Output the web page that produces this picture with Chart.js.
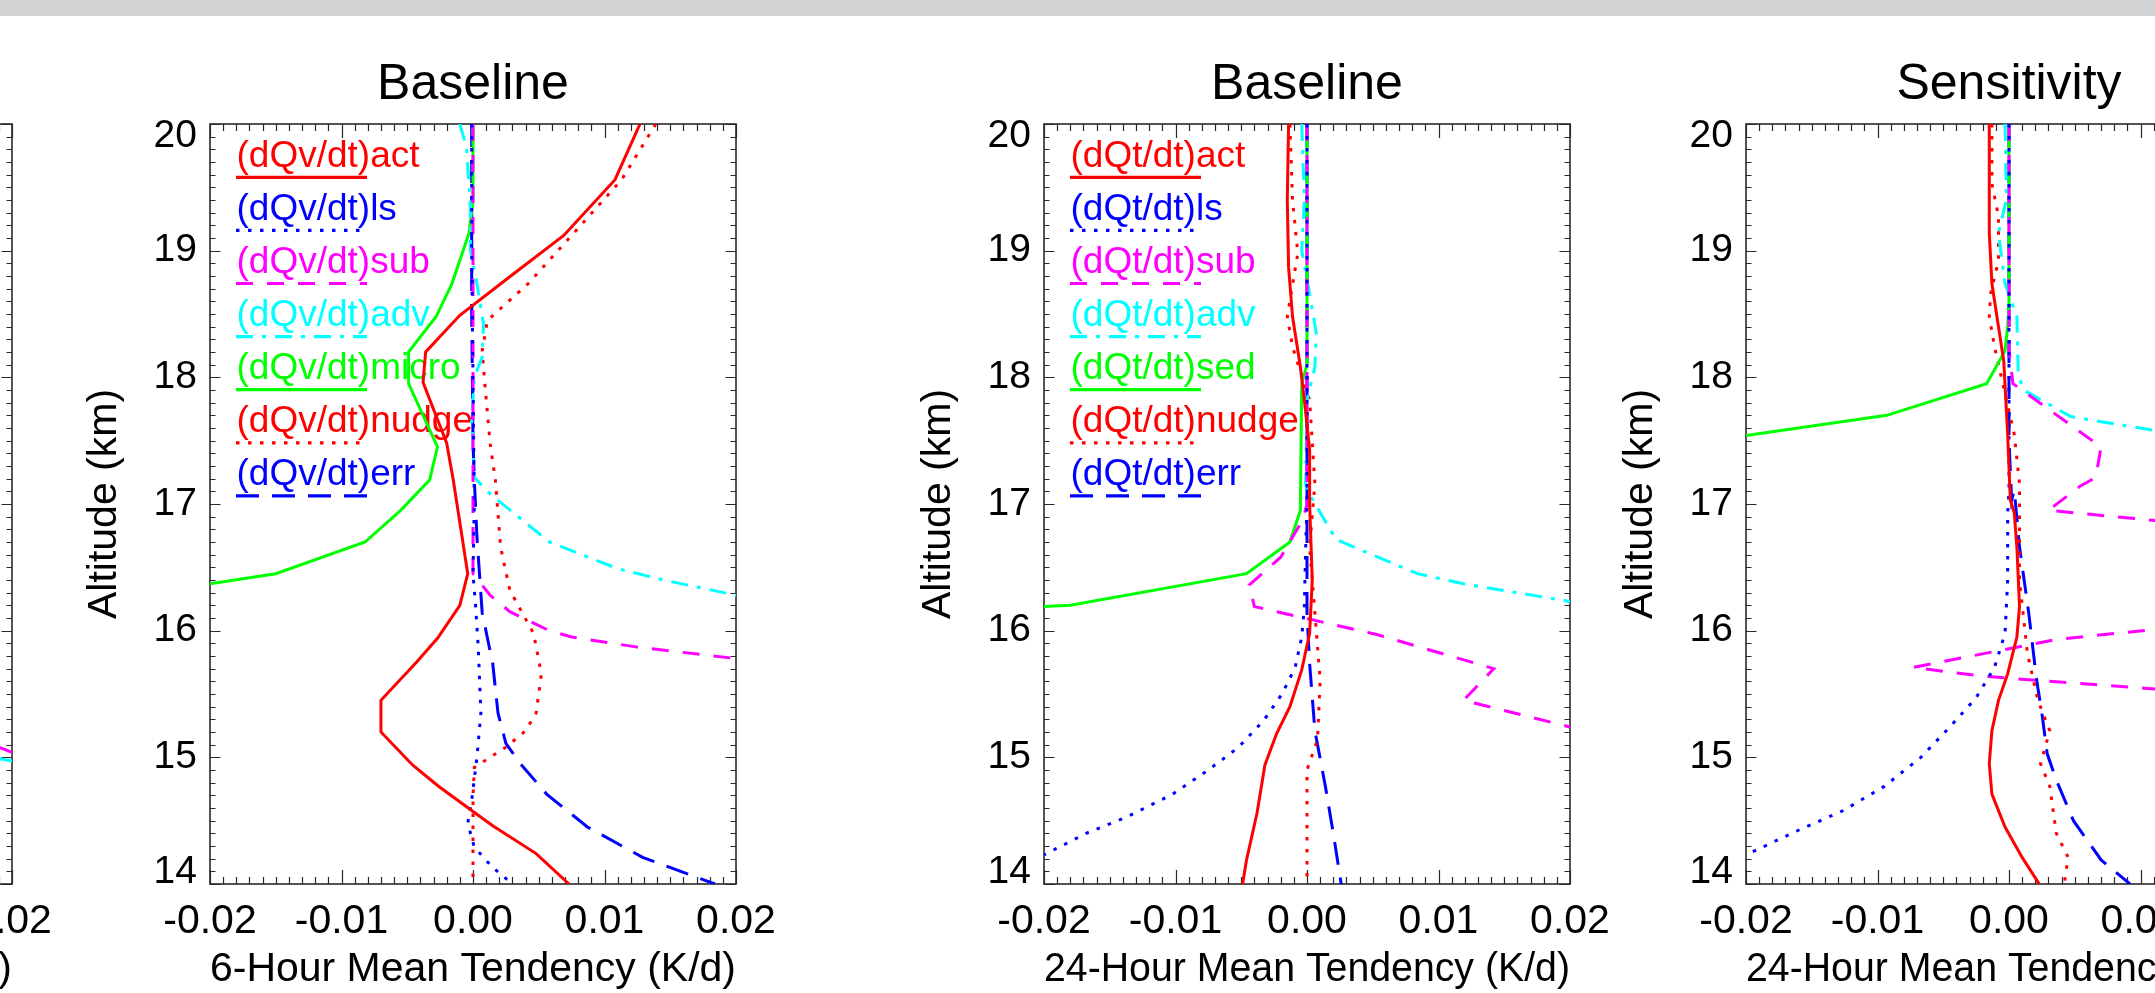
<!DOCTYPE html>
<html>
<head>
<meta charset="utf-8">
<script src="https://cdn.jsdelivr.net/npm/chart.js@4.4.1/dist/chart.umd.min.js"></script>
<style>
html, body { margin:0; padding:0; background:#ffffff; width:2155px; height:993px; overflow:hidden; position:relative; }
#bar { position:absolute; left:0; top:0; width:2155px; height:16px; background:#d3d4d6; }
canvas { position:absolute; top:0; }
</style>
</head>
<body>
<div id="bar"></div>
<canvas id="c0" width="834" height="993" style="left:-724px"></canvas>
<canvas id="c1" width="834" height="993" style="left:0px"></canvas>
<canvas id="c2" width="834" height="993" style="left:834px"></canvas>
<canvas id="c3" width="834" height="993" style="left:1536px"></canvas>
<script>
// ---------------- axes / tick labels ----------------
const X_MIN = -0.02, X_MAX = 0.02, Y_MIN = 14, Y_MAX = 20;
const xTickValues = [-0.02, -0.01, 0, 0.01, 0.02];
const xTickLabels = ['-0.02', '-0.01', '0.00', '0.01', '0.02'];
const yTickValues = [14, 15, 16, 17, 18, 19, 20];
const yTickLabels = ['14', '15', '16', '17', '18', '19', '20'];
const panelTitles = ['', 'Baseline', 'Baseline', 'Sensitivity'];
const xTitles = ['6-Hour Mean Tendency (K/d)', '6-Hour Mean Tendency (K/d)', '24-Hour Mean Tendency (K/d)', '24-Hour Mean Tendency (K/d)'];
const yTitle = 'Altitude (km)';
const qvLabels = ['(dQv/dt)act', '(dQv/dt)ls', '(dQv/dt)sub', '(dQv/dt)adv', '(dQv/dt)micro', '(dQv/dt)nudge', '(dQv/dt)err'];
const qtLabels = ['(dQt/dt)act', '(dQt/dt)ls', '(dQt/dt)sub', '(dQt/dt)adv', '(dQt/dt)sed', '(dQt/dt)nudge', '(dQt/dt)err'];

// ---------------- data: [tendency, altitude km] ----------------
// partial panel at the far left (only its right edge is visible)
const p0Sub = [[0.0185, 15.10], [0.0200, 15.04]];
const p0Adv = [[0.0185, 15.00], [0.0200, 14.97]];

// 6-hour baseline (dQv/dt)
const p1Act = [[0.0127,20.0],[0.0108,19.56],[0.0069,19.12],[0.0025,18.77],[-0.0010,18.49],[-0.0036,18.20],[-0.0038,17.96],[-0.0020,17.48],[-0.0015,17.19],[-0.0004,16.45],[-0.0010,16.20],[-0.0027,15.94],[-0.0043,15.75],[-0.0070,15.45],[-0.0070,15.20],[-0.0046,14.94],[-0.0026,14.77],[-0.0001,14.58],[0.0015,14.46],[0.0048,14.24],[0.0073,14.0]];
const p1Ls = [[-0.0001,20.0],[-0.0001,19.0],[0.0000,18.0],[0.0001,17.0],[0.0000,16.45],[0.0002,16.19],[0.0004,15.87],[0.0006,15.35],[0.0003,15.0],[-0.0001,14.66],[-0.0004,14.48],[0.0001,14.29],[0.0015,14.13],[0.0030,14.0]];
const p1Sub = [[0.0000,20.0],[0.0000,18.0],[0.0000,16.45],[0.0013,16.28],[0.0028,16.15],[0.0058,16.0],[0.0075,15.95],[0.0125,15.87],[0.0200,15.78]];
const p1Adv = [[-0.0010,20.0],[-0.0005,19.82],[-0.0002,19.35],[-0.0002,19.0],[0.0003,18.74],[0.0008,18.42],[0.0007,18.16],[0.0001,18.0],[-0.0001,17.66],[0.0001,17.21],[0.0013,17.08],[0.0058,16.70],[0.0110,16.49],[0.0145,16.40],[0.0200,16.28]];
const p1Micro = [[0.0000,20.0],[0.0000,19.4],[-0.0003,19.14],[-0.0016,18.74],[-0.0028,18.48],[-0.0049,18.2],[-0.0049,17.95],[-0.0027,17.45],[-0.0033,17.19],[-0.0055,16.95],[-0.0082,16.7],[-0.0150,16.45],[-0.0200,16.37]];
const p1Nudge = [[0.0139,20.0],[0.0113,19.56],[0.0075,19.12],[0.0042,18.74],[0.0011,18.45],[0.0007,18.21],[0.0009,17.95],[0.0013,17.48],[0.0017,17.19],[0.0021,16.66],[0.0028,16.32],[0.0046,15.98],[0.0052,15.66],[0.0048,15.35],[0.0040,15.21],[0.0025,15.08],[0.0001,14.92],[0.0000,14.69],[0.0000,14.0]];
const p1Err = [[-0.0001,20.0],[-0.0001,18.5],[0.0000,17.5],[0.0001,17.19],[0.0003,16.74],[0.0007,16.14],[0.0015,15.74],[0.0019,15.35],[0.0025,15.11],[0.0036,14.95],[0.0056,14.71],[0.0087,14.45],[0.0129,14.21],[0.0184,14.0]];

// 24-hour baseline (dQt/dt)
const p2Act = [[-0.0014,20.0],[-0.0015,19.4],[-0.0014,18.87],[-0.0011,18.48],[-0.0005,18.08],[-0.0002,17.82],[0.0002,17.43],[0.0002,17.0],[0.0004,16.4],[0.0002,15.98],[-0.0004,15.69],[-0.0013,15.4],[-0.0023,15.19],[-0.0032,14.94],[-0.0038,14.56],[-0.0046,14.19],[-0.0049,14.0]];
const p2Ls = [[0.0000,20.0],[0.0000,17.0],[-0.0001,16.66],[-0.0002,16.19],[-0.0004,15.95],[-0.0009,15.71],[-0.0019,15.5],[-0.0033,15.29],[-0.0052,15.08],[-0.0075,14.9],[-0.0102,14.71],[-0.0137,14.53],[-0.0168,14.4],[-0.0200,14.23]];
const p2Sub = [[0.0000,20.0],[0.0000,17.0],[-0.0003,16.88],[-0.0020,16.58],[-0.0044,16.36],[-0.0040,16.19],[0.0053,15.97],[0.0142,15.70],[0.0119,15.45],[0.0200,15.24]];
const p2Adv = [[-0.0004,20.0],[-0.0002,19.4],[-0.0004,19.0],[0.0002,18.66],[0.0007,18.35],[0.0006,18.08],[0.0000,17.82],[-0.0001,17.16],[0.0000,17.11],[0.0022,16.72],[0.0084,16.45],[0.0119,16.37],[0.0200,16.23]];
const p2Sed = [[0.0000,20.0],[0.0000,18.1],[-0.0004,17.95],[-0.0005,17.03],[-0.0005,16.95],[-0.0013,16.70],[-0.0046,16.45],[-0.0180,16.20],[-0.0200,16.19]];
const p2Nudge = [[-0.0013,20.0],[-0.0011,19.4],[-0.0007,18.98],[-0.0015,18.48],[-0.0011,18.24],[0.0002,17.82],[0.0006,17.16],[0.0002,16.66],[0.0006,16.14],[0.0010,15.61],[0.0008,15.14],[0.0000,14.9],[0.0000,14.0]];
const p2Err = [[0.0000,20.0],[0.0000,17.0],[0.0000,16.14],[0.0002,15.74],[0.0006,15.21],[0.0014,14.77],[0.0020,14.40],[0.0026,14.0]];

// 24-hour sensitivity (dQt/dt)
const p3Act = [[-0.0015,20.0],[-0.0015,19.14],[-0.0013,18.74],[-0.0008,18.4],[-0.0004,18.13],[-0.0001,17.55],[0.0001,17.03],[0.0004,16.93],[0.0006,16.66],[0.0008,16.19],[0.0006,15.95],[-0.0001,15.66],[-0.0008,15.45],[-0.0013,15.21],[-0.0015,14.95],[-0.0013,14.71],[-0.0003,14.45],[0.0010,14.21],[0.0023,14.0]];
const p3Ls = [[0.0000,20.0],[0.0000,17.1],[-0.0001,16.93],[-0.0001,16.4],[-0.0003,15.98],[-0.0011,15.71],[-0.0025,15.47],[-0.0045,15.24],[-0.0067,15.0],[-0.0095,14.77],[-0.0126,14.58],[-0.0159,14.43],[-0.0200,14.23]];
const p3Sub = [[0.0000,20.0],[0.0000,18.21],[0.0003,17.95],[0.0050,17.60],[0.0070,17.45],[0.0066,17.21],[0.0054,17.14],[0.0030,16.95],[0.0111,16.87],[0.0150,16.82],[0.0150,16.05],[0.0111,16.01],[0.0036,15.93],[-0.0073,15.71],[-0.0020,15.64],[0.0111,15.54],[0.0150,15.50]];
const p3Adv = [[-0.0003,20.0],[-0.0002,19.4],[-0.0008,19.14],[-0.0003,18.74],[0.0006,18.48],[0.0007,18.03],[0.0011,17.90],[0.0047,17.69],[0.0111,17.58],[0.0150,17.52]];
const p3Sed = [[0.0000,20.0],[0.0000,18.6],[-0.0001,18.4],[-0.0003,18.21],[-0.0017,17.95],[-0.0093,17.70],[-0.0200,17.54]];
const p3Nudge = [[-0.0013,20.0],[-0.0013,19.53],[-0.0008,19.27],[-0.0008,18.92],[-0.0014,18.66],[-0.0015,18.48],[-0.0011,18.24],[0.0004,17.55],[0.0008,17.16],[0.0008,16.4],[0.0011,16.11],[0.0014,15.82],[0.0022,15.45],[0.0031,15.21],[0.0024,14.95],[0.0031,14.77],[0.0036,14.4],[0.0045,14.21],[0.0042,14.0]];
const p3Err = [[0.0000,20.0],[0.0000,17.5],[0.0002,17.03],[0.0004,17.11],[0.0008,16.66],[0.0015,16.14],[0.0021,15.61],[0.0025,15.35],[0.0029,15.03],[0.0036,14.82],[0.0049,14.5],[0.0070,14.19],[0.0092,14.0]];

// ---------------- styles ----------------
const FONT = '"Liberation Sans", Arial, Helvetica, sans-serif';
const ST = {
  act:   { color: '#ff0000', dash: [] },
  ls:    { color: '#0000ff', dash: [3.5, 8.5] },
  sub:   { color: '#ff00ff', dash: [17, 14] },
  adv:   { color: '#00ffff', dash: [17, 9, 4, 9] },
  micro: { color: '#00ff00', dash: [] },
  nudge: { color: '#ff0000', dash: [3.5, 8.5] },
  err:   { color: '#0000ff', dash: [23, 13] }
};
const order = ['act', 'ls', 'sub', 'adv', 'micro', 'nudge', 'err'];

function makeDatasets(seriesList, labels) {
  return seriesList.map((pts, i) => {
    const st = ST[order[i]];
    return {
      label: labels[i],
      data: pts.map(p => ({ x: p[0], y: p[1] })),
      borderColor: st.color,
      backgroundColor: st.color,
      borderWidth: 3,
      borderDash: st.dash,
      borderCapStyle: 'butt',
      pointRadius: 0,
      pointHoverRadius: 0,
      tension: 0,
      fill: false,
      clip: 0
    };
  });
}

// IDL-style box with inward ticks on all four sides, plus in-plot legend
const idlPlugin = {
  id: 'idl',
  beforeDatasetsDraw(chart) {
    const { ctx, chartArea: a, scales: { x, y } } = chart;
    ctx.save();
    ctx.strokeStyle = '#2a2a2a';
    ctx.lineWidth = 1.2;
    ctx.beginPath();
    for (let i = 0; i <= 40; i++) {
      const v = X_MIN + i * 0.001;
      const px = Math.round(x.getPixelForValue(v)) + 0.5;
      const len = (i % 10 === 0) ? 14 : 7;
      ctx.moveTo(px, a.bottom); ctx.lineTo(px, a.bottom - len);
      ctx.moveTo(px, a.top); ctx.lineTo(px, a.top + len);
    }
    for (let i = 0; i <= 60; i++) {
      const v = Y_MIN + i * 0.1;
      const py = Math.round(y.getPixelForValue(v)) + 0.5;
      const len = (i % 10 === 0) ? 10.5 : 5.5;
      ctx.moveTo(a.left, py); ctx.lineTo(a.left + len, py);
      ctx.moveTo(a.right, py); ctx.lineTo(a.right - len, py);
    }
    ctx.stroke();
    ctx.lineWidth = 1.6;
    ctx.strokeRect(a.left, a.top, a.right - a.left, a.bottom - a.top);

    if (chart.options.plugins.idl && chart.options.plugins.idl.legend) {
      ctx.font = '37px ' + FONT;
      ctx.textAlign = 'left';
      ctx.textBaseline = 'alphabetic';
      chart.data.datasets.forEach((d, i) => {
        const ly = a.top + 53.3 + i * 53.1;
        ctx.fillStyle = d.borderColor;
        ctx.fillText(d.label, a.left + 26.5, ly - 10.5);
        ctx.strokeStyle = d.borderColor;
        ctx.lineWidth = 3.2;
        ctx.setLineDash(d.borderDash);
        ctx.beginPath();
        ctx.moveTo(a.left + 26, ly);
        ctx.lineTo(a.left + 157, ly);
        ctx.stroke();
        ctx.setLineDash([]);
      });
    }
    ctx.restore();
  }
};

function makePanel(id, idx, datasets, legend) {
  const showTitle = panelTitles[idx] !== '';
  new Chart(document.getElementById(id), {
    type: 'line',
    data: { datasets },
    plugins: [idlPlugin],
    options: {
      responsive: false,
      animation: false,
      devicePixelRatio: 1,
      events: [],
      layout: { autoPadding: false, padding: { left: 0, right: 98, top: 0, bottom: 0 } },
      plugins: {
        legend: { display: false },
        tooltip: { enabled: false },
        idl: { legend },
        title: {
          display: true,
          text: showTitle ? panelTitles[idx] : ' ',
          fullSize: false,
          align: 'center',
          color: '#000',
          font: { family: FONT, size: 50, weight: 'normal', lineHeight: 1 },
          padding: { top: 60.5, bottom: 13.5 }
        }
      },
      scales: {
        x: {
          type: 'linear',
          min: X_MIN, max: X_MAX,
          afterBuildTicks: s => { s.ticks = xTickValues.map(v => ({ value: v })); },
          afterFit: s => { s.height = 109; },
          grid: { display: false, drawTicks: false },
          border: { display: false },
          ticks: {
            color: '#000',
            padding: 17.5,
            maxRotation: 0, minRotation: 0,
            autoSkip: false,
            font: { family: FONT, size: 41, lineHeight: 1 },
            callback: v => { const k = xTickValues.findIndex(t => Math.abs(t - v) < 1e-9); return k >= 0 ? xTickLabels[k] : ''; }
          },
          title: {
            display: true, text: xTitles[idx], color: '#000',
            font: { family: FONT, size: 41, lineHeight: 1 },
            padding: { top: 0, bottom: 2.5 }
          }
        },
        y: {
          type: 'linear',
          min: Y_MIN, max: Y_MAX,
          afterBuildTicks: s => { s.ticks = yTickValues.map(v => ({ value: v })); },
          afterFit: s => { s.width = 210; },
          grid: { display: false, drawTicks: false },
          border: { display: false },
          ticks: {
            color: '#000',
            padding: 13,
            autoSkip: false,
            font: { family: FONT, size: 39, lineHeight: 0.62 },
            callback: v => {
              const k = yTickValues.indexOf(v);
              if (k < 0) return '';
              if (v === Y_MAX) return ['', yTickLabels[k]];
              if (v === Y_MIN) return [yTickLabels[k], ''];
              return yTickLabels[k];
            }
          },
          title: {
            display: true, text: yTitle, color: '#000',
            font: { family: FONT, size: 41, lineHeight: 1 },
            padding: { top: 84.5, bottom: 0 }
          }
        }
      }
    }
  });
}

// partial left panel: only sub and adv reach its visible right edge
makePanel('c0', 0, [
  { label: qvLabels[2], data: p0Sub.map(p => ({ x: p[0], y: p[1] })), borderColor: ST.sub.color, borderWidth: 3, borderDash: [], pointRadius: 0, tension: 0, fill: false, clip: 0 },
  { label: qvLabels[3], data: p0Adv.map(p => ({ x: p[0], y: p[1] })), borderColor: ST.adv.color, borderWidth: 3, borderDash: [], pointRadius: 0, tension: 0, fill: false, clip: 0 }
], false);
makePanel('c1', 1, makeDatasets([p1Act, p1Ls, p1Sub, p1Adv, p1Micro, p1Nudge, p1Err], qvLabels), true);
makePanel('c2', 2, makeDatasets([p2Act, p2Ls, p2Sub, p2Adv, p2Sed, p2Nudge, p2Err], qtLabels), true);
makePanel('c3', 3, makeDatasets([p3Act, p3Ls, p3Sub, p3Adv, p3Sed, p3Nudge, p3Err], qtLabels), false);
</script>
</body>
</html>
